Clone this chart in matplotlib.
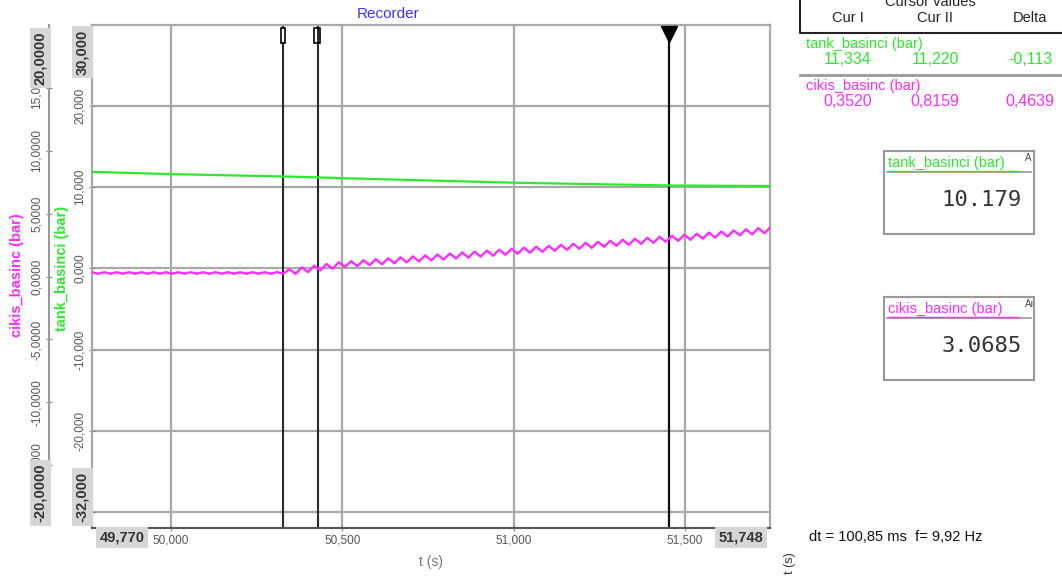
import numpy as np
import matplotlib.pyplot as plt
from matplotlib.patches import Rectangle
import matplotlib.transforms as mtransforms

plt.rcParams['font.family'] = ['Liberation Sans', 'DejaVu Sans']

# ---- data ----
t_range = [49.770, 51.748]

# tank_basinci (bar), left inner axis
tank_t = [49.770, 50.000, 50.327, 50.428, 50.500, 51.000, 51.453, 51.748]
tank_v = [11.90, 11.62, 11.334, 11.220, 11.12, 10.56, 10.22, 10.15]

# cikis_basinc (bar), outer axis, sampled every 18 ms from 49,770 s
cikis_t0 = 49.770
cikis_dt = 0.018
cikis_v = [0.34, 0.22, 0.34, 0.22, 0.34, 0.22, 0.34, 0.22, 0.34, 0.22,
           0.34, 0.22, 0.34, 0.22, 0.34, 0.22, 0.34, 0.22, 0.34, 0.22,
           0.34, 0.22, 0.34, 0.22, 0.34, 0.22, 0.34, 0.22, 0.34, 0.22,
           0.35, 0.22, 0.58, 0.21, 0.72, 0.35, 0.86, 0.49, 0.99, 0.62,
           1.13, 0.75, 1.22, 0.82, 1.30, 0.90, 1.38, 0.97, 1.45, 1.05,
           1.53, 1.12, 1.60, 1.20, 1.68, 1.28, 1.75, 1.35, 1.83, 1.43,
           1.91, 1.50, 1.98, 1.58, 2.06, 1.65, 2.13, 1.73, 2.21, 1.81,
           2.29, 1.89, 2.37, 1.96, 2.44, 2.04, 2.52, 2.12, 2.60, 2.20,
           2.68, 2.28, 2.76, 2.36, 2.84, 2.44, 2.92, 2.52, 3.00, 2.60,
           3.08, 2.68, 3.16, 2.76, 3.24, 2.84, 3.32, 2.92, 3.40, 3.01,
           3.49, 3.09, 3.58, 3.18, 3.66, 3.27, 3.75, 3.35, 3.84, 3.44,
           3.95]

cursor_t = [50.327, 50.428, 51.453]

x_ticks = [50.0, 50.5, 51.0, 51.5]
x_labels = ['50,000', '50,500', '51,000', '51,500']
tank_ticks = [-30, -20, -10, 0, 10, 20]
tank_labels = ['', '-20,000', '-10,000', '0,000', '10,000', '20,000']
cikis_ticks = [-15, -10, -5, 0, 5, 10, 15]
cikis_labels = ['-15,0000', '-10,0000', '-5,0000', '0,0000', '5,0000',
                '10,0000', '15,0000']

cur_names = ['Cur I', 'Cur II', 'Delta']
tank_cur = ['11,334', '11,220', '-0,113']
cikis_cur = ['0,3520', '0,8159', '0,4639']
tank_now = '10.179'
cikis_now = '3.0685'

GREEN = '#2ee82e'
MAGENTA = '#ff2cff'
GRID = '#a8a8a8'

W, H = 1062, 576
fig = plt.figure(figsize=(W / 100, H / 100), dpi=100)
ax = fig.add_axes([92 / W, 1 - 528 / H, (770 - 92) / W, (528 - 25) / H])
ax.set_xlim(t_range)
ax.set_ylim(-32, 30)

ax_c = ax.twinx()
ax_c.set_ylim(-20, 20)
ax_c.yaxis.set_ticks_position('left')
ax_c.spines['left'].set_position(('outward', 43 * 0.72))
ax_c.spines['left'].set_bounds(-14.5, 20)
for s in ['top', 'right', 'bottom']:
    ax_c.spines[s].set_visible(False)
ax_c.spines['left'].set_color('#999999')
ax_c.spines['left'].set_linewidth(1.5)

# grid, spines, ticks
ax.set_xticks(x_ticks, x_labels)
ax.set_yticks(tank_ticks, tank_labels)
ax.grid(True, color=GRID, lw=1.6)
ax.set_axisbelow(True)
for s in ['top', 'right', 'left']:
    ax.spines[s].set_color(GRID)
    ax.spines[s].set_linewidth(1.6)
ax.spines['bottom'].set_color('#555555')
ax.spines['bottom'].set_linewidth(1.5)
ax.tick_params(axis='x', direction='inout', length=5, color='#888888',
               labelsize=8.5, labelcolor='#555555', pad=2)
ax.tick_params(axis='y', direction='inout', length=5, color='#888888',
               labelsize=8.5, labelcolor='#555555', pad=2, labelrotation=90)
for lab in ax.get_yticklabels():
    lab.set_va('center')

ax_c.set_yticks(cikis_ticks, cikis_labels)
ax_c.tick_params(axis='y', direction='inout', length=5, color='#888888',
                 labelsize=8.5, labelcolor='#555555', pad=2, labelrotation=90)
for lab in ax_c.get_yticklabels():
    lab.set_va('center')

# series
ax.plot(tank_t, tank_v, color=GREEN, lw=1.6, zorder=3)
cik_t = cikis_t0 + cikis_dt * np.arange(len(cikis_v))
ax_c.plot(cik_t, cikis_v, color=MAGENTA, lw=1.7, zorder=3)

# cursors
top = mtransforms.blended_transform_factory(ax.transData, ax.transAxes)
ax.axvline(cursor_t[0], color='#2a2a2a', lw=1.5, zorder=2)
ax.axvline(cursor_t[1], color='#2a2a2a', lw=1.5, zorder=2)
ax.axvline(cursor_t[2], color='#111111', lw=1.6, zorder=2)
px = (t_range[1] - t_range[0]) / 678.0
py = 1 / 503.0
ax.add_patch(Rectangle((cursor_t[0] - 2 * px, 1 - 18 * py), 4 * px, 15 * py,
                       transform=top, fc='white', ec='black', lw=1.2,
                       clip_on=False, zorder=4))
ax.add_patch(Rectangle((cursor_t[1] - 4 * px, 1 - 18 * py), 6 * px, 15 * py,
                       transform=top, fc='white', ec='black', lw=1.2,
                       clip_on=False, zorder=4))
ax.plot([cursor_t[1], cursor_t[1]], [1 - 18 * py, 1 - 3 * py], color='black',
        lw=1.2, transform=top, zorder=5, clip_on=False)
ax.plot(cursor_t[2], 1 - 9 * py, marker='v', ms=12, color='black',
        transform=top, clip_on=False, zorder=5)

# ---- overlay in pixel coordinates ----
ov = fig.add_axes([0, 0, 1, 1], zorder=10)
ov.set_xlim(0, W)
ov.set_ylim(H, 0)
ov.axis('off')
ov.patch.set_visible(False)

box = dict(fc='#d6d6d6', ec='none', pad=2.5)
ov.text(82, 52, '30,000', rotation=90, ha='center', va='center', fontsize=10.5,
        fontweight='bold', color='#333333', bbox=box)
ov.text(82, 497, '-32,000', rotation=90, ha='center', va='center', fontsize=10.5,
        fontweight='bold', color='#333333', bbox=box)
ov.text(40, 58, '20,0000', rotation=90, ha='center', va='center', fontsize=10.5,
        fontweight='bold', color='#333333', bbox=box)
ov.text(40, 493, '-20,0000', rotation=90, ha='center', va='center', fontsize=10.5,
        fontweight='bold', color='#333333', bbox=box)
ov.text(122, 537, '49,770', ha='center', va='center', fontsize=10.5,
        fontweight='bold', color='#333333', bbox=box)
ov.text(741, 537, '51,748', ha='center', va='center', fontsize=10.5,
        fontweight='bold', color='#333333', bbox=box)

ov.text(62, 268, 'tank_basinci (bar)', rotation=90, ha='center', va='center',
        fontsize=10.5, fontweight='bold', color=GREEN)
ov.text(17, 275, 'cikis_basinc (bar)', rotation=90, ha='center', va='center',
        fontsize=10.5, fontweight='bold', color=MAGENTA)

ov.text(388, 14, 'Recorder', ha='center', va='center', fontsize=11,
        color='#3535ff')
ov.text(431, 562, 't (s)', ha='center', va='center', fontsize=10,
        color='#777777')
ov.text(790, 563, 't (s)', rotation=90, ha='center', va='center', fontsize=9,
        color='#333333')
ov.text(809, 537, 'dt = 100,85 ms  f= 9,92 Hz', ha='left', va='center',
        fontsize=10.5, color='#111111')

# cursor values table
ov.plot([800, 800, W], [0, 33, 33], color='#222222', lw=1.5)
ov.plot([800, W], [75, 75], color='#999999', lw=2)
ov.text(930, 2, 'Cursor values', ha='center', va='center', fontsize=10.5,
        color='#222222')
for cx, name, tv, cv in zip([848, 935, 1030], cur_names, tank_cur, cikis_cur):
    ov.text(cx, 18, name, ha='center', va='center', fontsize=10.5,
            color='#222222')
    ov.text(cx, 60, tv, ha='center', va='center', fontsize=11.5, color=GREEN)
    ov.text(cx, 102, cv, ha='center', va='center', fontsize=11.5,
            color=MAGENTA)
ov.text(806, 44, 'tank_basinci (bar)', ha='left', va='center', fontsize=10.5,
        color=GREEN)
ov.text(806, 86, 'cikis_basinc (bar)', ha='left', va='center', fontsize=10.5,
        color=MAGENTA)

# current value boxes
for y0, name, val, col, tag in [(151, 'tank_basinci (bar)', tank_now, GREEN, 'A'),
                                 (297, 'cikis_basinc (bar)', cikis_now, MAGENTA, 'Aı')]:
    ov.add_patch(Rectangle((884, y0), 150, 83, fc='white', ec='#999999', lw=1.5))
    ov.plot([887, 1031], [y0 + 21, y0 + 21], color='#999999', lw=1.2)
    ov.plot([888, 1018], [y0 + 20, y0 + 20], color=col, lw=1)
    ov.text(888, y0 + 12, name, ha='left', va='center', fontsize=10.5, color=col)
    ov.text(1025, y0 + 7, tag, ha='left', va='center', fontsize=7,
            color='#444444')
    ov.text(1022, y0 + 49, val, ha='right', va='center', fontsize=16,
            family='DejaVu Sans Mono', color='#333333')

fig.savefig('out.png', dpi=100)
